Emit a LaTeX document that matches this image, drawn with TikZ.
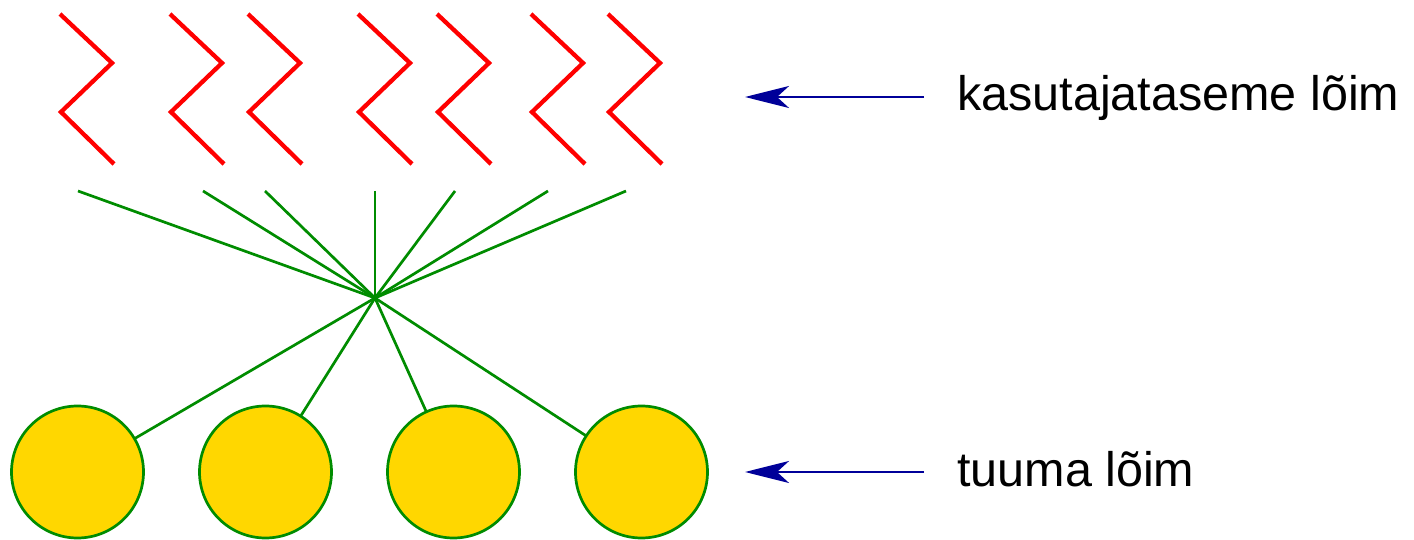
\documentclass[tikz,border=0pt]{standalone}
\usepackage{fontspec}
\setmainfont{Liberation Sans}
\usetikzlibrary{arrows.meta}
\definecolor{zred}{RGB}{255,0,0}
\definecolor{zgreen}{RGB}{0,140,0}
\definecolor{zgold}{RGB}{255,215,0}
\definecolor{znavy}{RGB}{0,0,153}
\begin{document}
\begin{tikzpicture}[x=1pt,y=-1pt,
  zig/.style={draw=zred,line width=4.3pt,miter limit=10},
  ray/.style={draw=zgreen,line width=2.7pt},
  kthread/.style={circle,draw=zgreen,fill=zgold,line width=2.7pt,minimum size=132pt,inner sep=0pt},
  pointer/.style={draw=znavy,line width=2.8pt,-{Stealth[length=44pt,width=22pt,inset=12pt]}},
  lbl/.style={anchor=base west,inner sep=0pt,font=\fontsize{48.5}{58}\selectfont}]
\useasboundingbox (0,0) rectangle (1414,540);
% user-level threads (zigzags)
\foreach \x in {60,170,248,358,437,531,608}{
  \draw[zig] (\x,14) -- (\x+52,63) -- (\x+1,112) -- (\x+54,164);
}
% hub and ray tops
\coordinate (hub) at (375,298);
\coordinate (t1) at (78,191);
\coordinate (t2) at (203,191);
\coordinate (t3) at (265,191);
\coordinate (t4) at (375,191);
\coordinate (t5) at (455,191);
\coordinate (t6) at (548,191);
\coordinate (t7) at (626,191);
\foreach \i in {1,...,7}{\draw[ray] (t\i) -- (hub);}
% kernel threads
\coordinate (k1) at (77.5,472);
\coordinate (k2) at (265.5,472);
\coordinate (k3) at (453.5,472);
\coordinate (k4) at (641.5,472);
\foreach \i in {1,...,4}{\draw[ray] (hub) -- (k\i);}
\foreach \i in {1,...,4}{\node[kthread] (c\i) at (k\i) {};}
% labels and arrows
\node[lbl] (ulabel) at (957,110.5) {kasutajataseme lõim};
\node[lbl] (klabel) at (957,486) {tuuma lõim};
\coordinate (ua0) at (924,97);
\coordinate (ua1) at (745,97);
\coordinate (ka0) at (924,472);
\coordinate (ka1) at (745,472);
\draw[pointer] (ua0) -- (ua1);
\draw[pointer] (ka0) -- (ka1);
\end{tikzpicture}
\end{document}
